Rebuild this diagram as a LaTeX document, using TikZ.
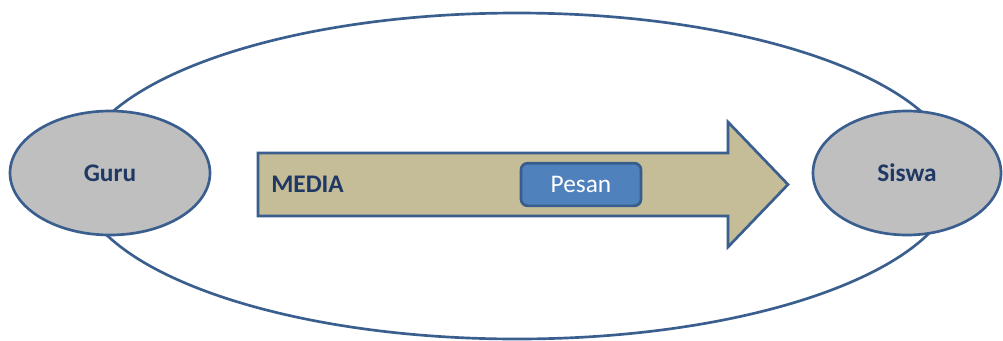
\documentclass[tikz,border=0pt]{standalone}
\usepackage{fontspec}
\setmainfont{Carlito}
\usetikzlibrary{shapes.geometric}
\definecolor{edge}{HTML}{3A5F8F}
\definecolor{grayfill}{HTML}{BFBFBF}
\definecolor{tan}{HTML}{C4BD97}
\definecolor{navy}{HTML}{1F3864}
\definecolor{boxblue}{HTML}{4F81BD}
\definecolor{boxedge}{HTML}{385D8A}
\tikzset{
  person/.style={ellipse, draw=edge, line width=2pt, fill=grayfill, inner sep=0pt,
    minimum height=93pt, font=\fontsize{19}{22}\selectfont\bfseries, text=navy},
  msg/.style={rectangle, rounded corners=5pt, draw=boxedge, line width=2pt, fill=boxblue,
    minimum width=90pt, minimum height=32pt, inner sep=0pt, text=white,
    font=\fontsize{19}{22}\selectfont},
  lbl/.style={anchor=west, inner sep=0pt, text=navy, font=\fontsize{19}{22}\selectfont\bfseries}
}
\begin{document}
\begin{tikzpicture}[x=0.75pt,y=-0.75pt]
\useasboundingbox (0,0) rectangle (1003,340);
\draw[edge, line width=2pt, fill=white] (517,176) ellipse [x radius=440, y radius=163];
\node[person, minimum width=150pt] (guru) at (110,173) {Guru};
\node[person, minimum width=141pt] (siswa) at (907,173) {Siswa};
\draw[edge, line width=2pt, fill=tan, line join=miter]
  (258,153) -- (728,153) -- (728,122) -- (788,184.5) -- (728,247) -- (728,216) -- (258,216) -- cycle;
\node[lbl] (media) at (271,184.5) {MEDIA};
\node[msg] (pesan) at (581,184.5) {Pesan};
\end{tikzpicture}
\end{document}
